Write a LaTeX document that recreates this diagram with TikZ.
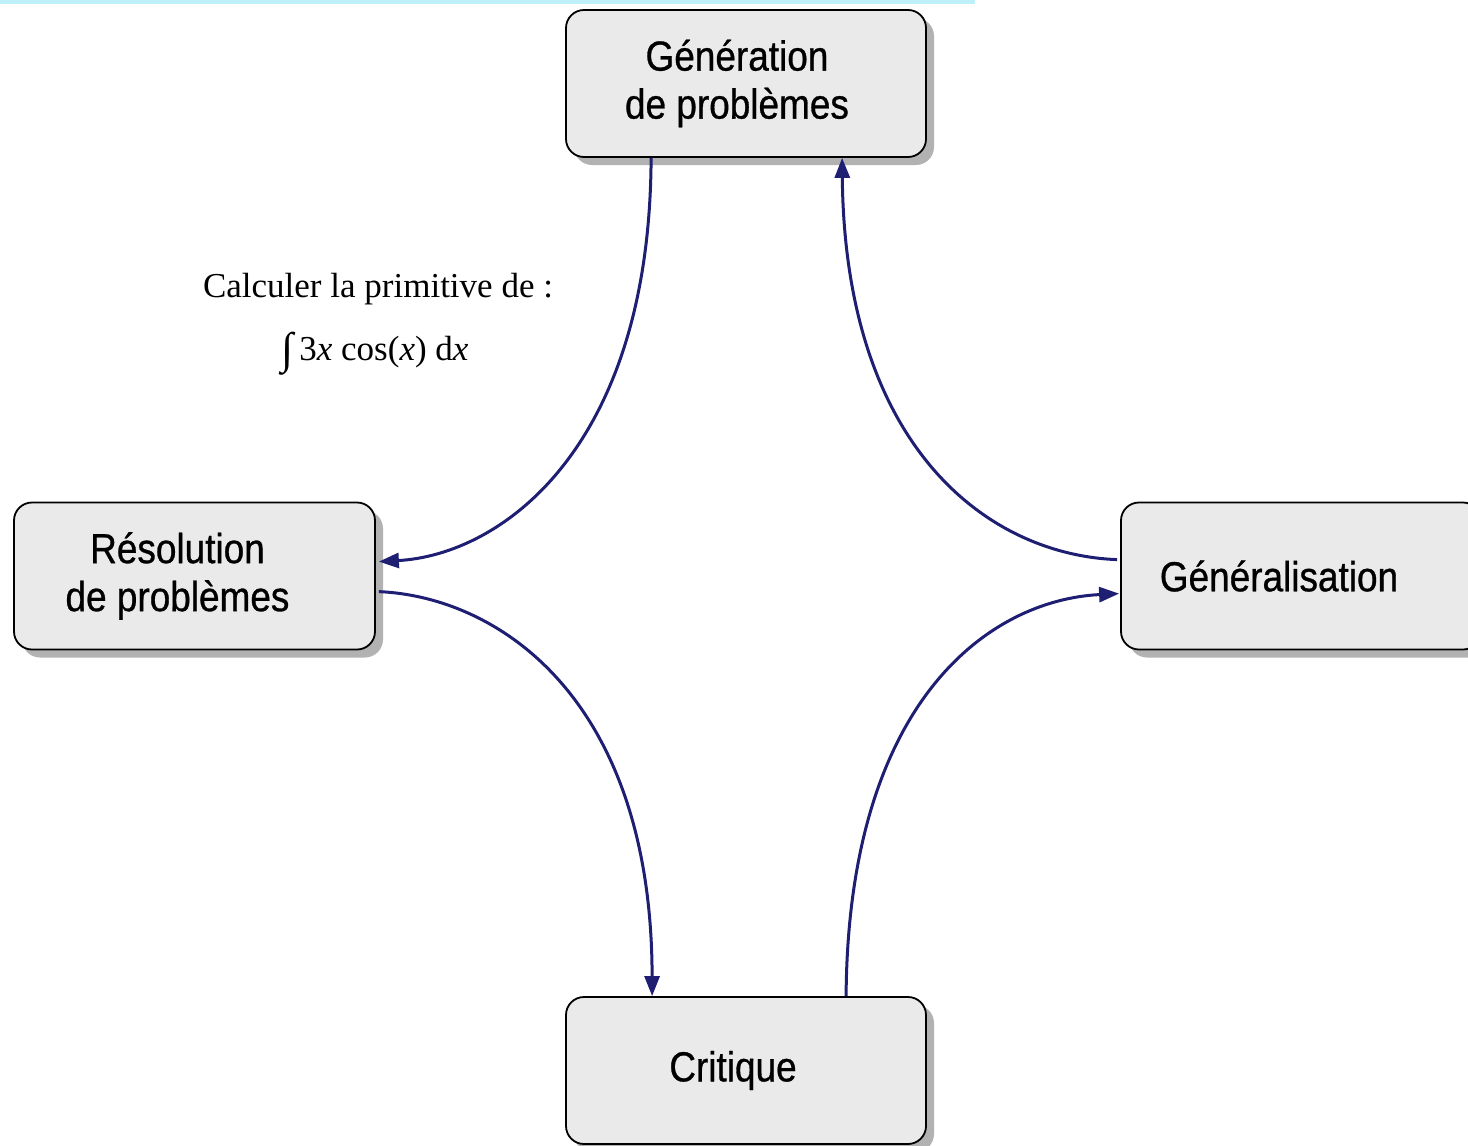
\documentclass[tikz,border=0pt]{standalone}
\usepackage{fontspec}
\setmainfont{Liberation Serif}
\newfontfamily\boxfont[FakeStretch=0.88,FakeBold=0.7]{Liberation Sans}
\usetikzlibrary{arrows.meta,shadows,calc}
\definecolor{arrowc}{RGB}{30,30,115}
\definecolor{boxfill}{RGB}{234,234,234}
\definecolor{shadowc}{RGB}{178,178,178}
\definecolor{topline}{RGB}{190,240,250}
\begin{document}
\begin{tikzpicture}[x=1pt,y=-1pt,
  stagebox/.style={draw=black, line width=1.8pt, fill=boxfill, rounded corners=18pt,
    minimum width=360pt, minimum height=147pt, inner sep=0pt,
    drop shadow={shadow xshift=8pt, shadow yshift=-8pt, fill=shadowc, opacity=1}},
  boxtext/.style={font=\boxfont\fontsize{42}{48}\selectfont, align=center, inner sep=0pt},
  flow/.style={draw=arrowc, line width=3pt, -{Triangle[length=20pt,width=15pt]}},
  note/.style={font=\fontsize{35}{42}\selectfont, inner sep=0pt, anchor=base}]
\useasboundingbox (0,0) rectangle (1468,1146);
\fill[topline] (0,0) rectangle (975,4);

\node[stagebox, label={[boxtext, xshift=-9pt]center:Génération\\de problèmes}] (gen) at (746,83.5) {};
\node[stagebox, minimum width=361pt, label={[boxtext, xshift=-17pt]center:Résolution\\de problèmes}] (res) at (194.5,576) {};
\node[stagebox, label={[boxtext, xshift=-22pt]center:Généralisation}] (gnr) at (1301,576) {};
\node[stagebox, label={[boxtext, xshift=-13pt]center:Critique}] (crit) at (746,1070.5) {};

\node[note] (n1) at (378,297) {Calculer la primitive de :};
\node[note] (n2) at (375,360) {\raisebox{-3pt}{\fontsize{44}{44}\selectfont ∫}\,3\textit{x} cos(\textit{x}) d\textit{x}};

\draw[flow] ($(gen.south west)+(86,0)$) .. controls (650,450) and (500,555) .. ($(res.north east)+(3,60)$);
\draw[flow] ($(gnr.north west)+(-3,58)$) .. controls (990,555) and (845,450) .. ($(gen.south west)+(277,0)$);
\draw[flow] ($(res.north east)+(3,90)$) .. controls (500,597) and (652,700) .. ($(crit.north west)+(87,0)$);
\draw[flow] ($(crit.north west)+(281,0)$) .. controls (848,700) and (990,600) .. ($(gnr.north west)+(-1,92)$);
\end{tikzpicture}
\end{document}
